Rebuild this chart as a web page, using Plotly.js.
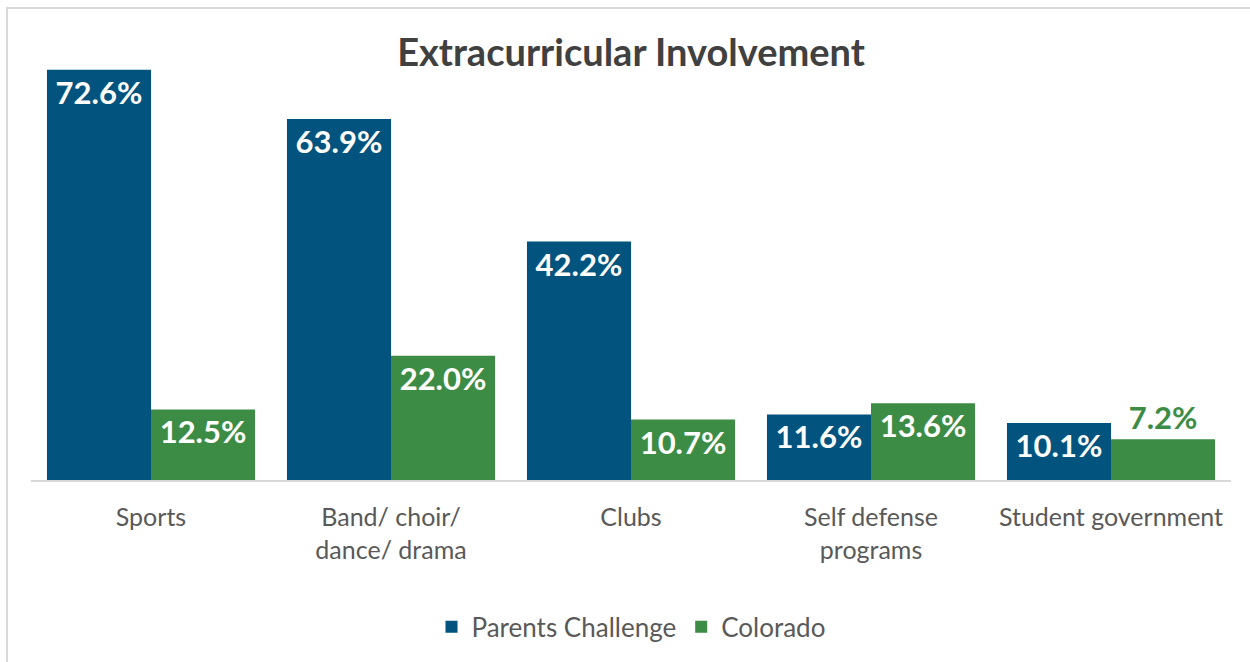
<!DOCTYPE html>
<html>
<head>
<meta charset="utf-8">
<script src="https://cdn.plot.ly/plotly-3.0.1.min.js"></script>
<style>
  html, body { margin: 0; padding: 0; background: #fff; }
  #wrap { position: relative; width: 1250px; height: 662px; overflow: hidden; }
  #chart { position: absolute; left: 0; top: 0; width: 1250px; height: 662px; }
  #frame { position: absolute; left: 6px; top: 7px; width: 1300px; height: 700px;
           border-top: 2px solid #d9d9d9; border-left: 2px solid #d9d9d9; pointer-events: none; }
</style>
</head>
<body>
<div id="wrap">
  <div id="chart"></div>
  <div id="frame"></div>
</div>
<script>
const categories = ["Sports", "Band/ choir/<br>dance/ drama", "Clubs", "Self defense<br>programs", "Student government"];
const parentsChallenge = [72.6, 63.9, 42.2, 11.6, 10.1];
const colorado = [12.5, 22.0, 10.7, 13.6, 7.2];
const seriesNames = ["Parents Challenge", "Colorado"];

const fmt = v => v.toFixed(1) + "%";
const FONT = "Lato, 'Open Sans', sans-serif";
const BLUE = "#02547E";
const GREEN = "#3C8C46";

function posFor(vals) {
  return vals.map(v => v < 9 ? "outside" : "inside");
}
function colFor(vals, c) {
  return vals.map(v => v < 9 ? c : "#ffffff");
}

const traces = [
  {
    type: "bar", name: seriesNames[0], x: categories, y: parentsChallenge,
    marker: { color: BLUE },
    text: parentsChallenge.map(fmt), textposition: posFor(parentsChallenge),
    insidetextanchor: "end", constraintext: "none", cliponaxis: false,
    textfont: { family: FONT, size: 31, color: colFor(parentsChallenge, BLUE), weight: "bold" },
    hoverinfo: "skip"
  },
  {
    type: "bar", name: seriesNames[1], x: categories, y: colorado,
    marker: { color: GREEN },
    text: colorado.map(fmt), textposition: posFor(colorado),
    insidetextanchor: "end", constraintext: "none", cliponaxis: false,
    textfont: { family: FONT, size: 31, color: colFor(colorado, GREEN), weight: "bold" },
    hoverinfo: "skip"
  }
];

const layout = {
  width: 1250, height: 662,
  paper_bgcolor: "#ffffff", plot_bgcolor: "#ffffff",
  margin: { l: 31, r: 19, t: 28, b: 178 },
  barmode: "group", bargap: 0.133, bargroupgap: 0,
  title: { text: "<b>Extracurricular Involvement</b>", x: 0.5, xref: "paper", y: 0.921, yref: "container",
           yanchor: "middle", font: { family: FONT, size: 38, color: "#404040" } },
  xaxis: {
    type: "category", showgrid: false, zeroline: false,
    showline: true, linecolor: "#d9d9d9", linewidth: 2,
    ticks: "", tickfont: { family: FONT, size: 25, color: "#595959" }, ticklabelstandoff: 14
  },
  yaxis: { range: [0, 80], visible: false, showgrid: false, zeroline: false },
  showlegend: true,
  legend: { orientation: "h", x: 0.5, xanchor: "center", y: -0.325, yanchor: "middle",
            font: { family: FONT, size: 26, color: "#595959" }, itemwidth: 30, traceorder: "normal" },
  uniformtext: { mode: false }
};

Plotly.newPlot("chart", traces, layout, { staticPlot: true, displayModeBar: false });
</script>
</body>
</html>
